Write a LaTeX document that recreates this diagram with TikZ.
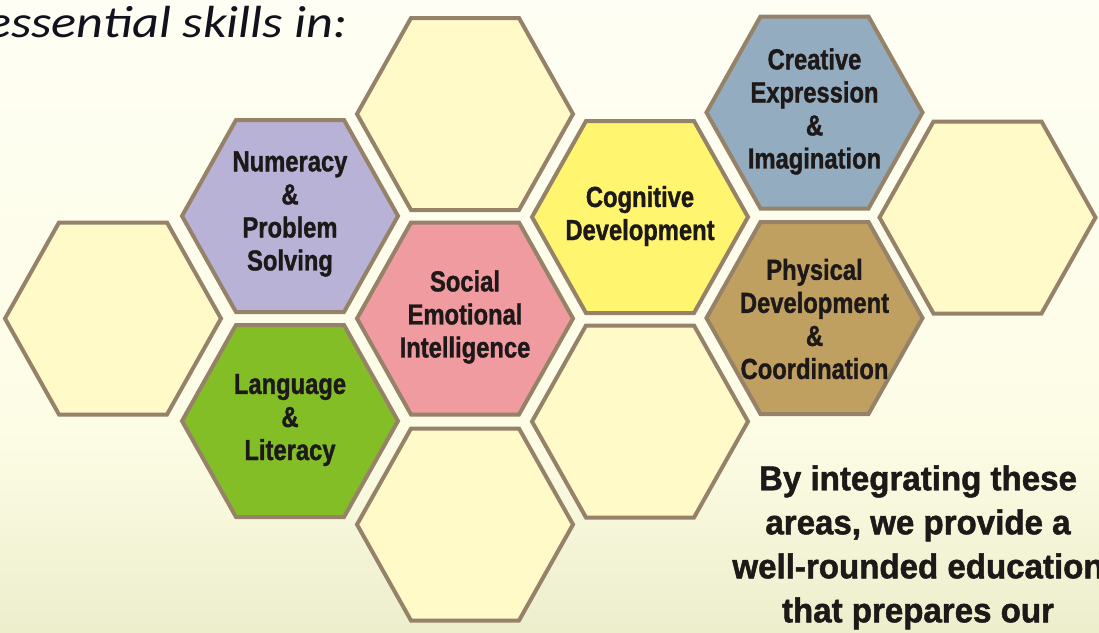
\documentclass[tikz,border=0pt]{standalone}
\usepackage{fontspec}
\setmainfont{Liberation Sans}
\newfontfamily\labelfont{Liberation Sans}[FakeStretch=0.82,FakeBold=1.2]
\newfontfamily\notefont{Liberation Sans}[FakeStretch=0.96,FakeBold=1.4]
\newfontfamily\titlefont{Carlito}[FakeStretch=1.16]

\definecolor{hexedge}{RGB}{150,130,104}
\definecolor{emptyfill}{RGB}{255,250,200}
\definecolor{numfill}{RGB}{184,178,214}
\definecolor{langfill}{RGB}{132,190,38}
\definecolor{socfill}{RGB}{240,155,160}
\definecolor{cogfill}{RGB}{255,245,110}
\definecolor{crefill}{RGB}{148,172,192}
\definecolor{phyfill}{RGB}{192,160,96}
\definecolor{inkdark}{RGB}{30,25,25}
\definecolor{bgtop}{RGB}{255,254,244}
\definecolor{bgmid}{RGB}{253,253,230}
\definecolor{bgbottom}{RGB}{236,238,204}

\begin{document}
\begin{tikzpicture}[
        x=0.025cm, y=-0.025cm,
        hexcell/.style={
            draw=hexedge, line width=0.1cm,
            line join=miter
        },
        hexlabel/.style={
            align=center, inner sep=0pt, text=inkdark,
            font=\fontsize{20.6}{23.5}\labelfont\bfseries
        },
        notetext/.style={
            align=center, inner sep=0pt, text=inkdark,
            font=\fontsize{24.5}{31.3}\notefont\bfseries
        },
        titletext/.style={
            inner sep=0pt, text={rgb,255:red,18;green,18;blue,30},
            font=\fontsize{32}{38}\titlefont\itshape
        }
    ]

    % Page and background
    \useasboundingbox (0,0) rectangle (1099,632);
    \clip (0,0) rectangle (1099,632);
    \fill[top color=bgtop, bottom color=bgmid] (0,0) rectangle (1099,430);
    \fill[top color=bgmid, bottom color=bgbottom] (0,430) rectangle (1099,632);

    % Heading, cut at the left edge
    \node[titletext, anchor=base east] (title) at (348,37) {essential skills in:};

    % Honeycomb cells
    \foreach \cx/\cy/\cfill in {
            113/318.5/emptyfill,
            290/216/numfill, 290/421/langfill,
            465/114/emptyfill, 465/318.5/socfill, 465/524.5/emptyfill,
            640/217/cogfill, 640/421.5/emptyfill,
            814.5/112.5/crefill, 814.5/318/phyfill,
            987.5/217.5/emptyfill}
        \draw[hexcell, fill=\cfill] (\cx,\cy) ++(-108,0) -- ++(54,-96)
            -- ++(108,0) -- ++(54,96) -- ++(-54,96) -- ++(-108,0) -- cycle;

    % Skill labels
    \node[hexlabel] (numeracy) at (290,214)
        {Numeracy\\\&\\Problem\\Solving};
    \node[hexlabel] (language) at (290,420)
        {Language\\\&\\Literacy};
    \node[hexlabel] (social) at (465,317)
        {Social\\Emotional\\Intelligence};
    \node[hexlabel] (cognitive) at (640,216)
        {Cognitive\\Development};
    \node[hexlabel] (creative) at (814.5,111.5)
        {Creative\\Expression\\\&\\Imagination};
    \node[hexlabel] (physical) at (814.5,319)
        {Physical\\Development\\\&\\Coordination};

    % Closing note, cut at the right and bottom edges
    \node[notetext, anchor=north] (note) at (918,465)
        {By integrating these\\areas, we provide a\\well-rounded education\\that prepares our};

\end{tikzpicture}
\end{document}
